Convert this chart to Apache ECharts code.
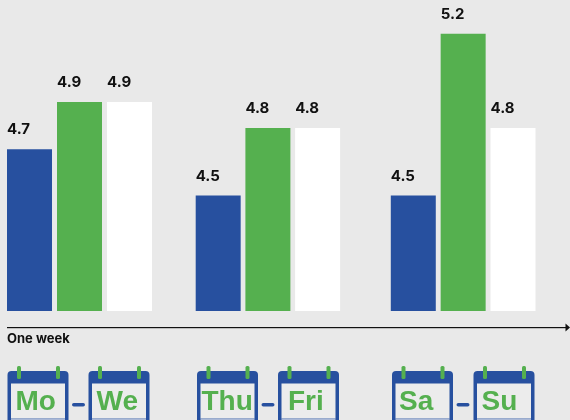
<!DOCTYPE html>
<html><head><meta charset="utf-8">
<style>html,body{margin:0;padding:0;background:#e9e9e9}#c{width:570px;height:420px}</style>
<script src="https://cdn.jsdelivr.net/npm/echarts@6/dist/echarts.min.js"></script>
</head><body><div id="c"></div>
<script>
var groups = ['Mo-We', 'Thu-Fri', 'Sa-Su'];
var blueValues = [4.7, 4.5, 4.5];
var greenValues = [4.905, 4.792, 5.2];
var whiteValues = [4.905, 4.792, 4.792];
var axisLabel = 'One week';
var dayPairs = [['Mo', 'We'], ['Thu', 'Fri'], ['Sa', 'Su']];

var BLUE = '#27509f', GREEN = '#55b04f', WHITE = '#ffffff', INK = '#111111';
var FONT = 'Inter, "Liberation Sans", sans-serif';
var groupLeft = [7, 195.7, 390.8];
var groupWidth = [145, 144.4, 144.7];
var groupGap = ['11.1%', '10.5%', '10.8%'];
var calLeft = [[7.5, 88.5], [197, 278], [392, 473.5]];
var textLeft = [[15.5, 96.5], [201.5, 288], [399, 481.5]];

var grids = [], xAxes = [], yAxes = [], series = [];
groups.forEach(function (g, i) {
  grids.push({ left: groupLeft[i], width: groupWidth[i], top: 10.7, height: 300.3 });
  xAxes.push({ type: 'category', gridIndex: i, data: [g], show: false });
  yAxes.push({ type: 'value', gridIndex: i, min: 4, max: 5.3, show: false });
  [[blueValues, BLUE], [greenValues, GREEN], [whiteValues, WHITE]].forEach(function (s) {
    series.push({
      type: 'bar', xAxisIndex: i, yAxisIndex: i, barWidth: 45, barGap: groupGap[i],
      data: [s[0][i]], itemStyle: { color: s[1] }, silent: true,
      label: {
        show: true, position: [0, -27], align: 'left', verticalAlign: 'top',
        color: INK, fontFamily: FONT, fontWeight: 700, fontSize: 15,
        formatter: function (p) { return p.value.toFixed(1); }
      }
    });
  });
});

var gfx = [];
gfx.push({ type: 'line', shape: { x1: 7, y1: 327.5, x2: 567, y2: 327.5 }, style: { stroke: '#111', lineWidth: 1 } });
gfx.push({ type: 'line', shape: { x1: 7, y1: 328.5, x2: 567, y2: 328.5 }, style: { stroke: '#bdbdbd', lineWidth: 1 } });
gfx.push({ type: 'polygon', shape: { points: [[565.5, 323.5], [570, 327.5], [565.5, 331.5]] }, style: { fill: '#111' } });
gfx.push({ type: 'text', left: 7, top: 333, style: { text: axisLabel, fill: INK, font: '700 13px ' + FONT } });

function calendar(x, label, tx) {
  var w = 61;
  gfx.push({ type: 'rect', shape: { x: x, y: 371, width: w, height: 60, r: [4, 4, 0, 0] }, style: { fill: BLUE } });
  gfx.push({ type: 'rect', shape: { x: x + 3.5, y: 383.5, width: w - 7, height: 35 }, style: { fill: '#ececec' } });
  gfx.push({ type: 'rect', shape: { x: x + 3.5, y: 418.5, width: w - 7, height: 1.5 }, style: { fill: '#aab8d6' } });
  [11.5, 50.5].forEach(function (d) {
    gfx.push({ type: 'rect', shape: { x: x + d - 2, y: 366, width: 4, height: 13, r: 1.5 }, style: { fill: GREEN } });
  });
  gfx.push({ type: 'text', x: tx, y: 416, style: { text: label, fill: GREEN, font: '700 28px "Liberation Sans", sans-serif', textAlign: 'left', textVerticalAlign: 'bottom' } });
}
dayPairs.forEach(function (p, i) {
  calendar(calLeft[i][0], p[0], textLeft[i][0]);
  calendar(calLeft[i][1], p[1], textLeft[i][1]);
  gfx.push({ type: 'rect', shape: { x: calLeft[i][0] + 64.5, y: 403, width: 13, height: 3.6, r: 1.8 }, style: { fill: BLUE } });
});

var chart = echarts.init(document.getElementById('c'), null, { renderer: 'canvas' });
chart.setOption({
  animation: false, backgroundColor: '#e9e9e9',
  grid: grids, xAxis: xAxes, yAxis: yAxes, series: series, graphic: gfx
});
</script></body></html>
